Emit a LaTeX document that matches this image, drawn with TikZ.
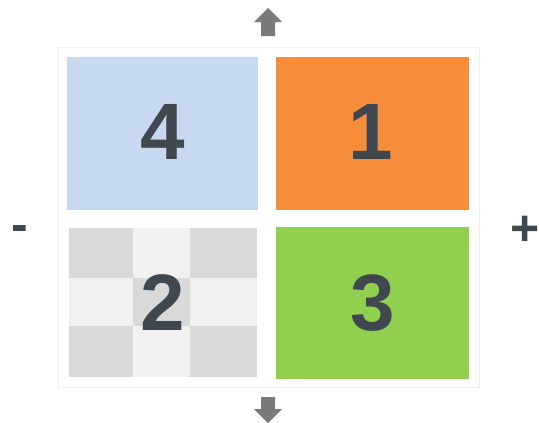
\documentclass[tikz,border=0pt]{standalone}
\usepackage{fontspec}
\setmainfont{Liberation Sans}
\definecolor{cblue}{HTML}{C6D9F1}
\definecolor{corange}{HTML}{F68D3B}
\definecolor{cgreen}{HTML}{91D04F}
\definecolor{cdark}{HTML}{D9D9D9}
\definecolor{clight}{HTML}{F1F1F1}
\definecolor{ctext}{HTML}{3F474F}
\definecolor{carrow}{HTML}{7A7A7A}
\begin{document}
\begin{tikzpicture}[x=1pt,y=-1pt,
  quad/.style={draw=none,inner sep=0pt,anchor=north west},
  num/.style={font=\fontsize{80}{80}\selectfont\bfseries,text=ctext,inner sep=0pt},
  sign/.style={font=\fontsize{50}{50}\selectfont\bfseries,text=ctext,inner sep=0pt}]
\useasboundingbox[fill=white] (0,0) rectangle (539,423);
% frame
\draw[draw=black!6,line width=0.8pt] (58,47) rectangle (479,387);
% quadrants
\node[quad,fill=cblue,minimum width=191pt,minimum height=153pt] (q4) at (67,57) {};
\node[quad,fill=corange,minimum width=193pt,minimum height=153pt] (q1) at (276,57) {};
\node[quad,fill=cgreen,minimum width=193pt,minimum height=152pt] (q3) at (276,227) {};
% checkerboard quadrant 2
\node[quad,fill=clight,minimum width=188pt,minimum height=149pt] (q2) at (69,228) {};
\fill[cdark] (69,228) rectangle (133,278);
\fill[cdark] (190,228) rectangle (257,278);
\fill[cdark] (133,278) rectangle (190,326);
\fill[cdark] (69,326) rectangle (133,377);
\fill[cdark] (190,326) rectangle (257,377);
% numbers
\node[num] (n4) at ([yshift=2pt]q4.center) {4};
\node[num] (n1) at ([xshift=-2pt,yshift=2pt]q1.center) {1};
\node[num] (n2) at ([yshift=0pt]q2.center) {2};
\node[num] (n3) at ([yshift=0pt]q3.center) {3};
% signs
\node[sign] (minus) at (20,234) {-};
\node[sign] (plus) at (525,231) {+};
% arrows
\fill[carrow] (268,8) -- (282,22) -- (275,22) -- (275,36) -- (261,36) -- (261,22) -- (254,22) -- cycle;
\fill[carrow] (268,423) -- (282,409) -- (275,409) -- (275,397) -- (261,397) -- (261,409) -- (254,409) -- cycle;
\end{tikzpicture}
\end{document}
